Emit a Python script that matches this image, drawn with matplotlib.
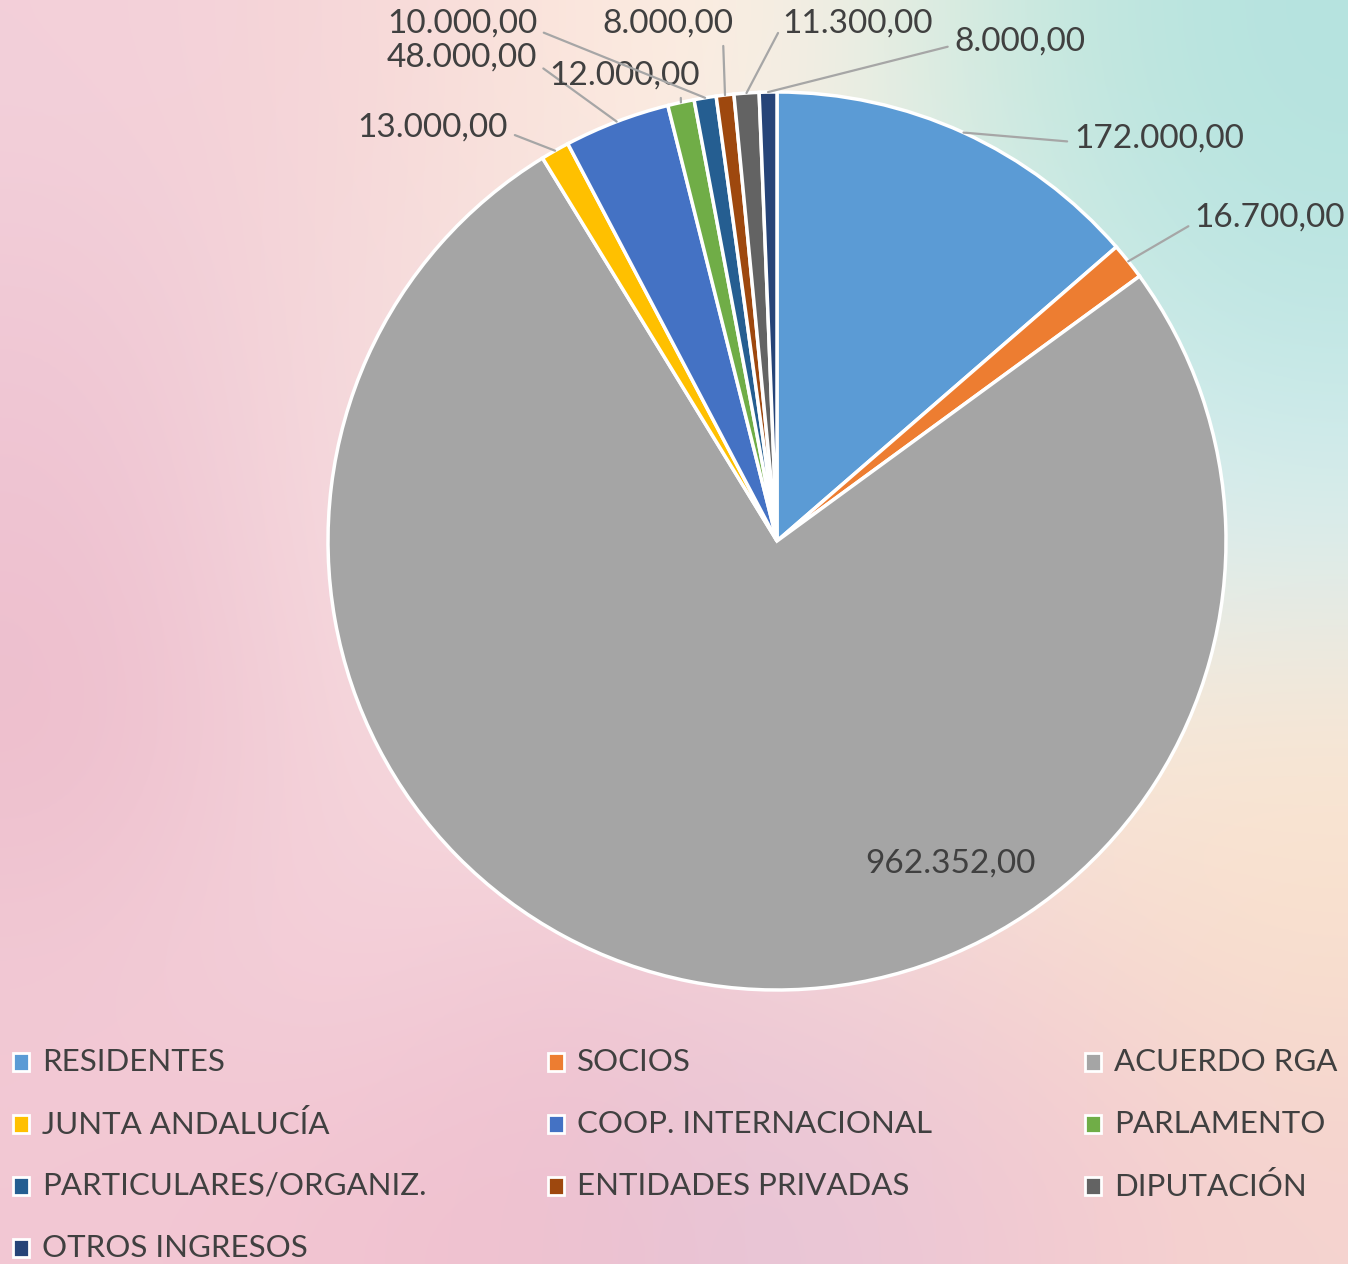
import matplotlib
matplotlib.use("Agg")
import matplotlib.pyplot as plt
import numpy as np
from matplotlib.colors import to_rgb
from matplotlib.patches import Rectangle

# data
categories = ["RESIDENTES", "SOCIOS", "ACUERDO RGA", "JUNTA ANDALUCÍA",
              "COOP. INTERNACIONAL", "PARLAMENTO", "PARTICULARES/ORGANIZ.",
              "ENTIDADES PRIVADAS", "DIPUTACIÓN", "OTROS INGRESOS"]
values = [172000, 16700, 962352, 13000, 48000, 12000, 10000, 8000, 11300, 8000]
colors = ["#5B9BD5", "#ED7D31", "#A5A5A5", "#FFC000", "#4472C4",
          "#70AD47", "#255E91", "#9E480E", "#636363", "#264478"]

W, H = 1348, 1264
FONT = "Lato"
TXT = "#404040"

# pastel watercolour-ish background (rows top -> bottom)
bg_hex = [
    ["#f3d0da", "#f6d6d8", "#fbe6dc", "#fdf1e4", "#c9e9df", "#b5e3df"],
    ["#f0c8d5", "#f5dadb", "#f8e4e0", "#f3efea", "#d4ede8", "#bfe6e3"],
    ["#eec2d1", "#f6d9de", "#f7e4e4", "#f5ede8", "#e3f0f0", "#d9eef0"],
    ["#edbdcc", "#f5d5db", "#f7e0e0", "#f3e6e6", "#f7ead9", "#fbe6d2"],
    ["#f1c9d4", "#f5d3dc", "#f1c8d3", "#f3cfd6", "#f5d5d2", "#f8e0ce"],
    ["#f3c8d4", "#f2c4d1", "#eec0cf", "#e6c6d8", "#f2c8d2", "#f5d3cf"],
]
bg = np.array([[to_rgb(c) for c in row] for row in bg_hex])


def to_data(px, py):
    # pie centre (777, 541) px, radius 449 px
    return (px - 777) / 449, (541 - py) / 449


def fmt(v):
    s = f"{v:,.2f}"
    return s.replace(",", "X").replace(".", ",").replace("X", ".")


fig = plt.figure(figsize=(W / 100, H / 100), dpi=100)

bax = fig.add_axes([0, 0, 1, 1])
bax.imshow(bg, extent=[0, 1, 0, 1], aspect="auto", interpolation="bicubic")
bax.axis("off")

ax = fig.add_axes([328 / W, (H - 990) / H, 898 / W, 898 / H])
wedges, _ = ax.pie(values, colors=colors, startangle=90, counterclock=False,
                   radius=1, wedgeprops=dict(edgecolor="white", linewidth=2.5))
ax.set_xlim(-1, 1)
ax.set_ylim(-1, 1)
ax.axis("off")

# label positions in pixels (text centre) and where the leader leaves the text
label_px = [
    (1159, 139, (0.0, 0.4)),
    (1270, 218, (0.0, 0.35)),
    (950, 864, None),
    (433, 128, (1.0, 0.35)),
    (462, 58, (1.0, 0.3)),
    (625, 76, (0.87, 0.0)),
    (462, 24, (1.0, 0.3)),
    (668, 24, (0.92, 0.0)),
    (858, 24, (0.0, 0.5)),
    (1020, 42, (0.0, 0.4)),
]

for w, v, (px, py, rel) in zip(wedges, values, label_px):
    tx, ty = to_data(px, py)
    if rel is None:
        ax.text(tx, ty, fmt(v), ha="center", va="center", fontsize=24,
                family=FONT, color=TXT)
        continue
    mid = np.deg2rad((w.theta1 + w.theta2) / 2)
    xy = (np.cos(mid), np.sin(mid))
    ax.annotate(fmt(v), xy=xy, xytext=(tx, ty), ha="center", va="center",
                fontsize=24, family=FONT, color=TXT, annotation_clip=False,
                arrowprops=dict(arrowstyle="-", color="#a6a6a6", lw=1.6,
                                relpos=rel, shrinkA=3, shrinkB=0))

# legend, filled row by row like the original
col_x = [13, 548, 1085]
row_y = [1062, 1124, 1186, 1248]
for i, (cat, col) in enumerate(zip(categories, colors)):
    x = col_x[i % 3]
    y = row_y[i // 3]
    fig.add_artist(Rectangle((x / W, (H - y - 9) / H), 16 / W, 18 / H,
                             transform=fig.transFigure, facecolor=col,
                             edgecolor="white", linewidth=2))
    fig.text((x + 29) / W, (H - y) / H, cat, ha="left", va="center",
             fontsize=22.5, family=FONT, color=TXT)

fig.savefig("out.png", dpi=100)
